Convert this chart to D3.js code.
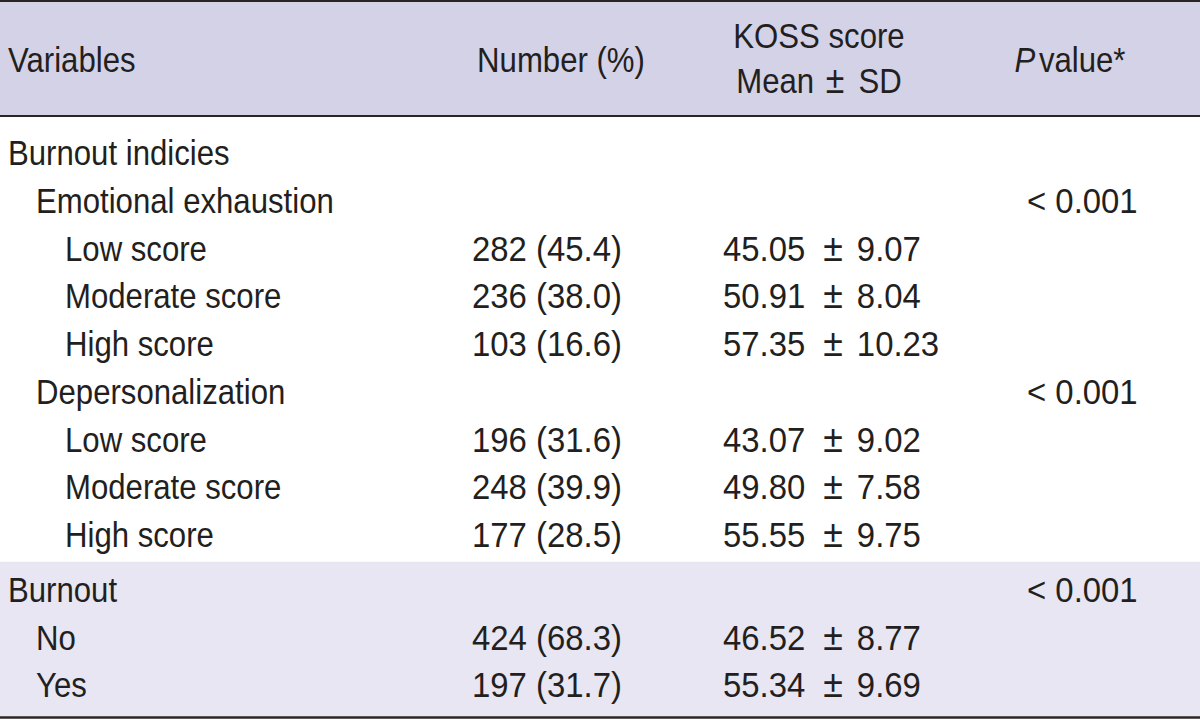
<!DOCTYPE html>
<html><head><meta charset="utf-8">
<script src="https://cdn.jsdelivr.net/npm/d3@7"></script>
<style>
html,body{margin:0;padding:0;background:#fff;}
text{font-family:"Liberation Sans",Arial,sans-serif;fill:#231f20;}
</style></head><body>
<svg id="t" width="1200" height="719"></svg>
<script>
// ---- data ----
const headers = ["Variables", "Number (%)", ["KOSS score", "Mean ± SD"], "P value*"];
const labels = ["Burnout indicies", "Emotional exhaustion", "Low score", "Moderate score", "High score",
  "Depersonalization", "Low score", "Moderate score", "High score", "Burnout", "No", "Yes"];
const levels = [0, 1, 2, 2, 2, 1, 2, 2, 2, 0, 1, 1];
const sections = [0, 0, 0, 0, 0, 0, 0, 0, 0, 1, 1, 1];
const counts = [null, null, 282, 236, 103, null, 196, 248, 177, null, 424, 197];
const percents = [null, null, 45.4, 38.0, 16.6, null, 31.6, 39.9, 28.5, null, 68.3, 31.7];
const means = [null, null, 45.05, 50.91, 57.35, null, 43.07, 49.80, 55.55, null, 46.52, 55.34];
const sds = [null, null, 9.07, 8.04, 10.23, null, 9.02, 7.58, 9.75, null, 8.77, 9.69];
const pvalues = [null, "< 0.001", null, null, null, "< 0.001", null, null, null, "< 0.001", null, null];

// ---- layout ----
const W = 1200, H = 719;
const svg = d3.select("#t");
const fs = 35;
const kL = 0.89;  // condensation for words
const kN = 0.94;  // condensation for figures
const headerBottom = 116;
const sectionGap = 7;
const rowStep = 47.75;
const firstBaseline = 165;
const y = i => firstBaseline + i * rowStep + sections[i] * sectionGap;
const indent = d3.scaleOrdinal().domain([0, 1, 2]).range([8, 36, 65]);
const colX = {num: 472, mean: 723, p: 1027};
const tf = (x, yy, k) => `translate(${x},${yy}) scale(${k},1)`;

// backgrounds
svg.append("rect").attr("x", 0).attr("y", 0).attr("width", W).attr("height", headerBottom).attr("fill", "#d4d2e7");
const secStart = y(9) - 40;
svg.append("rect").attr("x", 0).attr("y", secStart).attr("width", W).attr("height", H - 2 - secStart).attr("fill", "#e7e6f2");

// rules
[[1, 2], [headerBottom, 2], [H - 1.5, 2.5]].forEach(([yy, w]) =>
  svg.append("line").attr("x1", 0).attr("x2", W).attr("y1", yy).attr("y2", yy)
    .attr("stroke", "#2b2426").attr("stroke-width", w));

// mean ± sd writer with wider gaps round a slightly larger sign
function pm(sel, a, b, d1, d2) {
  sel.append("tspan").text(a);
  sel.append("tspan").attr("dx", d1).style("font-size", "38px").text("±");
  sel.append("tspan").attr("dx", d2).text(b);
}

// header
const hg = svg.append("g").style("font-size", fs + "px");
hg.append("text").attr("transform", tf(8, 72, kL)).text(headers[0]);
hg.append("text").attr("transform", tf(561, 72, kL)).attr("text-anchor", "middle").text(headers[1]);
hg.append("text").attr("transform", tf(819, 48, kL)).attr("text-anchor", "middle").text(headers[2][0]);
const [m1, m2] = headers[2][1].split(" ± ");
hg.append("text").attr("transform", tf(819, 93, kL)).attr("text-anchor", "middle").call(pm, m1, m2, 13, 16);
const pt = hg.append("text").attr("transform", tf(1070, 72, kL)).attr("text-anchor", "middle");
pt.append("tspan").style("font-style", "italic").text(headers[3].split(" ")[0]);
pt.append("tspan").attr("dx", 4).text(headers[3].split(" ").slice(1).join(" "));

// body rows
const rows = svg.append("g").style("font-size", fs + "px")
  .selectAll("g").data(labels.map((l, i) => i)).join("g");
rows.append("text").attr("transform", i => tf(indent(levels[i]), y(i), kL)).text(i => labels[i]);
rows.filter(i => counts[i] != null).append("text").attr("transform", i => tf(colX.num, y(i), kN))
  .text(i => `${counts[i]} (${percents[i].toFixed(1)})`);
rows.filter(i => means[i] != null).append("text").attr("transform", i => tf(colX.mean, y(i), kN))
  .each(function(i) { d3.select(this).call(pm, means[i].toFixed(2), sds[i].toFixed(2), 19, 15); });
rows.filter(i => pvalues[i] != null).append("text").attr("transform", i => tf(colX.p, y(i), kN))
  .text(i => pvalues[i]);
</script></body></html>
